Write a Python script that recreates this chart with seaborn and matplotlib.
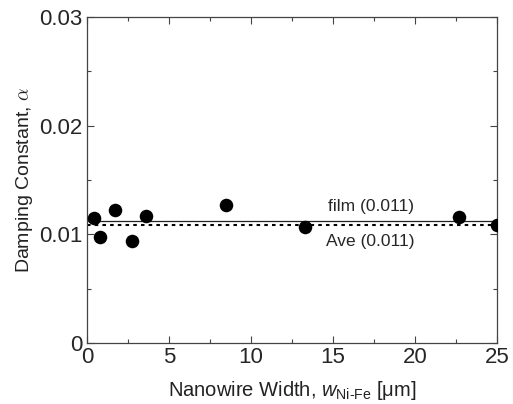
import matplotlib
matplotlib.use('Agg')
import matplotlib.pyplot as plt
import seaborn as sns
import pandas as pd
from matplotlib.ticker import MultipleLocator, FixedFormatter, FixedLocator

# ── data ───────────────────────────────────────────────────────────────────
width_um = [0.43, 0.79, 1.7, 2.76, 3.6, 8.5, 13.3, 22.7, 25.0]
alpha    = [0.0115, 0.0098, 0.0122, 0.0094, 0.0117, 0.0127, 0.0107, 0.0116, 0.0109]
FILM_ALPHA = 0.01122
AVE_ALPHA  = 0.01086

df = pd.DataFrame({'w': width_um, 'alpha': alpha})

sns.set_style('ticks')
plt.rcParams['font.family'] = ['Liberation Sans', 'DejaVu Sans']
plt.rcParams['mathtext.fontset'] = 'custom'
plt.rcParams['mathtext.rm'] = 'Liberation Sans'
plt.rcParams['mathtext.it'] = 'Liberation Sans:italic'

fig = plt.figure(figsize=(5.13, 4.04), dpi=100)
ax = fig.add_axes([87 / 513, 1 - 343 / 404, 410 / 513, 326 / 404])

ax.axhline(FILM_ALPHA, color='#222222', lw=0.9, zorder=1)
ax.axhline(AVE_ALPHA, color='black', lw=1.5, ls=(0, (1.7, 2.0)), zorder=1)

sns.scatterplot(data=df, x='w', y='alpha', ax=ax, color='black', s=95,
                edgecolor='black', linewidth=0, zorder=3, clip_on=True)

ax.set_xlim(0, 25)
ax.set_ylim(0, 0.03)
ax.xaxis.set_major_locator(MultipleLocator(5))
ax.xaxis.set_minor_locator(MultipleLocator(2.5))
ax.yaxis.set_major_locator(FixedLocator([0, 0.01, 0.02, 0.03]))
ax.yaxis.set_major_formatter(FixedFormatter(['0', '0.01', '0.02', '0.03']))
ax.yaxis.set_minor_locator(MultipleLocator(0.005))

ax.tick_params(which='both', direction='in', top=True, right=True,
               color='#444444', width=0.8)
ax.tick_params(which='major', length=5, labelsize=16, pad=3)
ax.tick_params(which='minor', length=3)
for sp in ax.spines.values():
    sp.set_linewidth(0.9)
    sp.set_color('#444444')

ax.set_xlabel(r'Nanowire Width, $w_{\mathrm{Ni\text{-}Fe}}$ [μm]',
              fontsize=14.5, labelpad=8, color='#222222')
ax.set_ylabel(r'Damping Constant, $\alpha$', fontsize=14, labelpad=3,
              color='#222222', math_fontfamily='cm')

ax.text(17.3, 0.01254, 'film (0.011)', ha='center', va='center', fontsize=12.5)
ax.text(17.3, 0.00932, 'Ave (0.011)', ha='center', va='center', fontsize=12.5)

fig.savefig('out.png', dpi=100)
